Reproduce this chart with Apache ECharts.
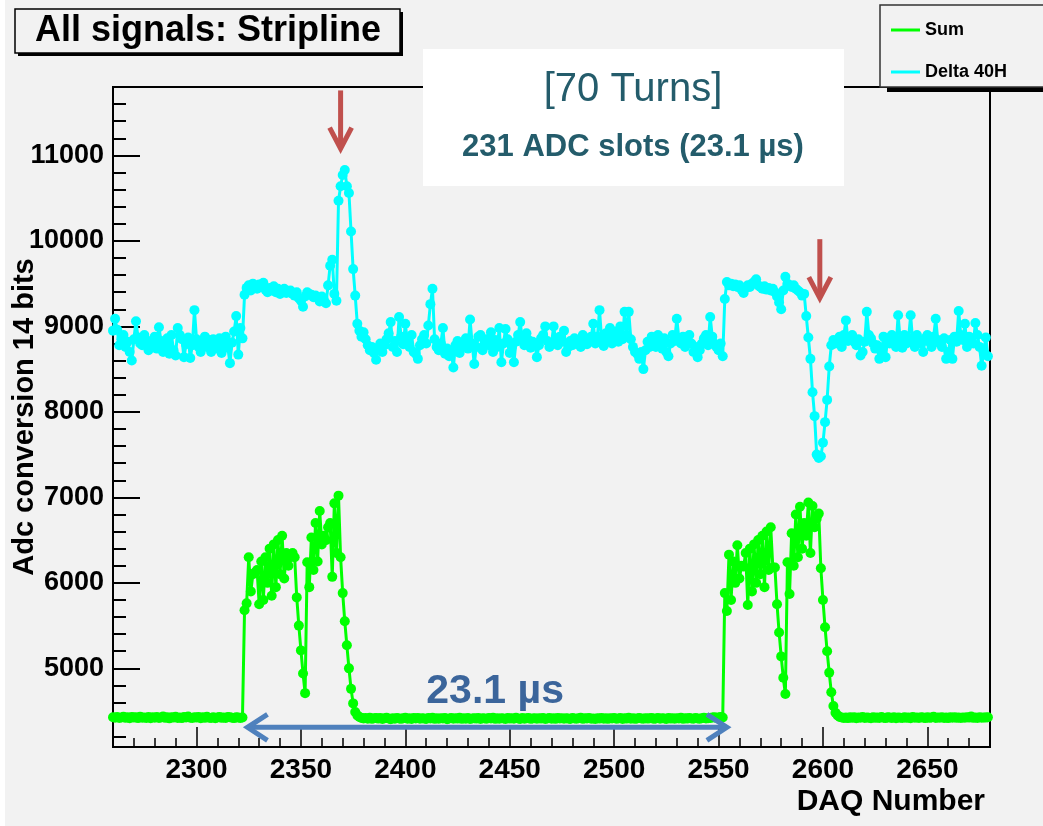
<!DOCTYPE html>
<html>
<head>
<meta charset="utf-8">
<script src="https://cdn.jsdelivr.net/npm/echarts@6/dist/echarts.min.js"></script>
<style>
  html, body { margin: 0; background: #f2f2f2; }
  #chart { width: 1043px; height: 826px; }
</style>
</head>
<body>
<div id="chart"></div>
<script>
// DAQ numbers 2260..2679, one sample per slot
const daqFirst = 2260;
const daqLast = 2679;

const xTicks = [2300, 2350, 2400, 2450, 2500, 2550, 2600, 2650];
const yTicks = [5000, 6000, 7000, 8000, 9000, 10000, 11000];

// Sum signal (green)
const sumBaseLeft = [
  4428,4422,4431,4419,4425,4433,4421,4427,4416,4430,
  4424,4429,4418,4435,4422,4426,4420,4432,4417,4428,
  4423,4431,4419,4426,4438,4421,4427,4415,4429,4424,
  4433,4420,4426,4418,4430,4425,4436,4422,4419,4428,
  4424,4431,4417,4427,4421,4434,4423,4420,4429,4416,
  4426,4432,4421,4425,4419,4430,4427,4422,4418,4428,
  4424,4420,4426
];
const sumPulse1 = [
  5680,5760,6300,5900,6100,6120,6150,5750,6250,5800,
  6300,6000,6400,5850,6450,5950,6500,6100,6550,6050,
  6350,6200,6300,6350,6300,5830,5500,5210,4940,4710,
  6240,5950,6530,6150,6700,6250,6840,6450,6550,6500,
  6650,6700,6070,6930,6350,7020,6300,5880,5550,5270,
  5000,4760,4590,4490,4450
];
const sumBaseMid = [
  4432,4420,4414,4418,4411,4423,4409,4416,4420,4412,
  4418,4408,4415,4421,4413,4406,4417,4410,4419,4414,
  4409,4416,4422,4411,4415,4407,4418,4413,4420,4410,
  4416,4412,4408,4419,4414,4421,4409,4415,4411,4417,
  4413,4420,4406,4414,4418,4410,4416,4412,4423,4409,
  4415,4411,4419,4407,4414,4417,4412,4420,4408,4416,
  4413,4410,4418,4414,4422,4409,4415,4411,4417,4413,
  4408,4419,4412,4416,4410,4421,4414,4407,4418,4411,
  4415,4420,4409,4413,4417,4410,4416,4412,4419,4408,
  4414,4418,4411,4415,4409,4420,4413,4416,4410,4417,
  4412,4408,4419,4414,4411,4416,4422,4409,4415,4413,
  4418,4410,4414,4407,4417,4412,4420,4411,4415,4409,
  4416,4413,4419,4410,4414,4418,4408,4415,4412,4421,
  4411,4416,4409,4414,4419,4413,4410,4417,4412,4415,
  4420,4409,4414,4418,4411,4416,4413,4408,4419,4412,
  4415,4410,4417,4414,4421,4409,4416,4412,4418,4413,
  4411,4419,4414,4410,4416,4422,4413,4417,4420,4424,
  4428,4421,4426,4430,4425
];
const sumPulse2 = [
  5880,5670,6330,5800,6250,6000,6440,6050,6200,6190,
  6350,5740,6400,5900,6450,6000,6500,6100,6550,5950,
  6600,6150,6650,6180,6180,5750,5420,5140,4890,4700,
  6240,5870,6580,6200,6800,6300,6890,6400,6700,6550,
  6940,6350,6900,6650,6750,6810,6170,5800,5480,5200,
  4950,4720,4560,4480,4450
];
const sumBaseRight = [
  4432,4426,4420,4424,4418,4427,4421,4429,4416,4425,
  4422,4430,4419,4426,4423,4417,4428,4421,4425,4419,
  4431,4422,4418,4427,4424,4420,4429,4416,4426,4423,
  4419,4428,4421,4425,4417,4430,4422,4426,4420,4427,
  4424,4418,4429,4421,4425,4433,4419,4426,4422,4428,
  4420,4424,4418,4427,4423,4429,4421,4425,4419,4426,
  4422,4428,4424,4437,4421,4425,4420,4427,4423,4426,
  4424,4428
];

// Delta 40H signal (cyan)
const deltaBaseLeft = [
  8950,9090,8960,8780,8850,8900,8760,8820,8700,8600,
  8850,9060,8870,8800,8780,8900,8840,8720,8760,8800,
  8880,8740,8990,8830,8700,8760,8860,8680,8900,8720,
  8660,8980,8900,8850,8640,8790,8870,8630,8780,9190,
  8850,8760,8700,8820,8880,8760,8840,8700,8850,8800,
  8740,8860,8690,8780,8880,8750,8570,8810,8940,9120,
  8670,8980,8860
];
const deltaPlateau1 = [
  9370,9450,9480,9420,9500,9470,9440,9490,9460,9510,
  9430,9400,9450,9420,9470,9400,9440,9380,9420,9440,
  9390,9410,9420,9380,9360,9400,9330,9300,9230,9350,
  9400,9380,9370,9340,9360,9330,9290,9350,9310,9270,
  9480,9710,9780,9380,9300
];
const deltaPeak = [10470,10640,10770,10830,10640,10560,10110,9670,9360,9030,8950,8880];
const deltaBaseMid = [
  8930,8850,8780,8720,8760,8690,8610,8740,8800,8700,
  8780,8850,8920,9050,8760,8830,8700,9110,8880,8790,
  9030,8820,8760,8900,8700,8680,8620,8780,8850,8900,
  8800,9010,9260,9440,8850,8760,8720,8800,8980,8680,
  8740,8650,8700,8520,8780,8830,8690,8760,8810,8860,
  8740,9080,8800,8560,8760,8880,8900,8720,8800,8850,
  8780,8930,8700,8840,8760,8980,8580,8800,8970,8850,
  8690,8760,8580,8820,8900,9050,8860,8780,8920,8840,
  8750,8820,8800,8640,8780,8860,8900,9000,8830,8760,
  8800,9000,8850,8780,8880,8820,8950,8700,8760,8830,
  8780,8860,8800,8840,8760,8900,8820,8790,8850,8880,
  9030,8800,8880,9190,8850,8770,8920,8860,8980,8800,
  8880,8940,8820,9000,8850,9170,8900,9170,8850,8760,
  8700,8680,8620,8700,8500,8720,8820,8760,8880,8800,
  8760,8900,8820,8740,8860,8700,8650,8800,8900,8830,
  9090,8860,8800,8880,8760,8840,8900,8800,8700,8760,
  8640,8720,8800,8860,8900,8780,9110,8880,8800,8760,
  8720,8800,8650
];
const deltaPlateau2 = [
  9320,9520,9480,9500,9470,9490,9460,9480,9430,9390,
  9450,9480,9460,9500,9520,9550,9480,9460,9440,9470,
  9430,9450,9420,9440,9400,9350,9280,9200,9420,9580,
  9500,9480,9460,9480,9440,9420,9400,9360,9380
];
const deltaDip = [9120,8870,8620,8230,7950,7500,7460,7480,7640,7880,8140,8530,8780,8840];
const deltaBaseRight = [
  8800,8840,8880,8760,8900,9070,8830,8860,8900,8820,
  8780,8850,8660,8700,8820,9170,8900,8860,8800,8740,
  8780,8620,8700,8880,8640,8860,8800,8900,8840,8760,
  9130,8840,8750,8900,8800,8860,9130,8820,8760,8900,
  8840,8800,8700,8860,8900,8820,8760,8880,9090,8840,
  8800,8760,8860,8620,8700,8840,8620,8880,8820,9180,
  8900,8840,9030,8760,8880,8820,8800,9040,8900,8760,
  8540,8700,8870,8650
];

const sumAdc = [].concat(sumBaseLeft, sumPulse1, sumBaseMid, sumPulse2, sumBaseRight);
const deltaAdc = [].concat(deltaBaseLeft, deltaPlateau1, deltaPeak, deltaBaseMid,
  deltaPlateau2, deltaDip, deltaBaseRight);

const daq = [];
for (let d = daqFirst; d <= daqLast; d++) daq.push(d);

const xMinor = [];
for (let v = 2260; v <= 2680; v += 10) if (v % 50) xMinor.push(v);
const yMinor = [];
for (let v = 4200; v <= 11800; v += 200) if (v % 1000) yMinor.push(v);

const FONT = '"Liberation Sans", Arial, sans-serif';
const RED = '#c0504d';
const BLUE = '#4f81bd';

const chart = echarts.init(document.getElementById('chart'));

const xRange = { min: 2260, max: 2680 };
const yRange = { min: 4080, max: 11800 };
const plain = v => String(v);

const option = {
  animation: false,
  backgroundColor: '#f2f2f2',
  grid: {
    left: 113, right: 53, top: 87, bottom: 79,
    outerBoundsMode: 'none', containLabel: false,
    show: true, borderColor: '#000', borderWidth: 2, backgroundColor: 'transparent'
  },
  legend: {
    orient: 'vertical', left: 886, top: 16, z: 10,
    itemWidth: 29, itemHeight: 3, itemGap: 24, icon: 'rect',
    textStyle: { fontFamily: FONT, fontWeight: 'bold', fontSize: 18, color: '#000' },
    data: ['Sum', 'Delta 40H']
  },
  xAxis: [
    {
      type: 'value', ...xRange,
      axisLine: { lineStyle: { color: '#000', width: 2 } },
      splitLine: { show: false },
      axisTick: { inside: true, length: 20, customValues: xTicks, lineStyle: { color: '#000', width: 1.5 } },
      axisLabel: {
        customValues: xTicks, formatter: plain, margin: 9, color: '#000',
        fontFamily: FONT, fontWeight: 'bold', fontSize: 28
      }
    },
    {
      type: 'value', ...xRange, position: 'bottom',
      axisLine: { show: false }, splitLine: { show: false }, axisLabel: { show: false },
      axisTick: { inside: true, length: 9, customValues: xMinor, lineStyle: { color: '#000', width: 1.5 } }
    }
  ],
  yAxis: [
    {
      type: 'value', ...yRange,
      name: 'Adc conversion 14 bits', nameLocation: 'middle', nameGap: 74, nameMoveOverlap: false,
      nameTextStyle: { fontFamily: FONT, fontWeight: 'bold', fontSize: 29, color: '#000' },
      axisLine: { lineStyle: { color: '#000', width: 2 } },
      splitLine: { show: false },
      axisTick: { inside: true, length: 27, customValues: yTicks, lineStyle: { color: '#000', width: 2 } },
      axisLabel: {
        customValues: yTicks, formatter: plain, margin: 9, color: '#000',
        fontFamily: FONT, fontWeight: 'bold', fontSize: 27
      }
    },
    {
      type: 'value', ...yRange, position: 'left',
      axisLine: { show: false }, splitLine: { show: false }, axisLabel: { show: false },
      axisTick: { inside: true, length: 13, customValues: yMinor, lineStyle: { color: '#000', width: 2 } }
    }
  ],
  series: [
    {
      name: 'Sum', type: 'line', xAxisIndex: 0, yAxisIndex: 0,
      data: daq.map((d, i) => [d, sumAdc[i]]),
      symbol: 'circle', symbolSize: 10, showAllSymbol: true,
      itemStyle: { color: '#00ff00' }, lineStyle: { color: '#00ff00', width: 3 }
    },
    {
      name: 'Delta 40H', type: 'line', xAxisIndex: 0, yAxisIndex: 0,
      data: daq.map((d, i) => [d, deltaAdc[i]]),
      symbol: 'circle', symbolSize: 10, showAllSymbol: true,
      itemStyle: { color: '#00ffff' }, lineStyle: { color: '#00ffff', width: 3 }
    }
  ]
};

chart.setOption(option);

// annotations anchored in data units
const peakArrows = [
  { daq: 2369, from: 11760, to: 11080 },
  { daq: 2598.5, from: 10020, to: 9330 }
];
const spanArrow = { from: 2324.4, to: 2554, adc: 4310 };
const spanLabel = { daq: 2443, adc: 4730, text: '23.1 µs' };

const px = (d, v) => chart.convertToPixel({ seriesIndex: 0 }, [d, v]);

const graphics = [
  // white strip at the left edge
  { type: 'rect', shape: { x: 0, y: 0, width: 5, height: 826 }, style: { fill: '#ffffff' }, z: 1 },
  // title box
  { type: 'rect', shape: { x: 18, y: 12, width: 385, height: 44 }, style: { fill: '#000' }, z: 1 },
  { type: 'rect', shape: { x: 15, y: 9, width: 385, height: 44 }, style: { fill: '#f2f2f2', stroke: '#000', lineWidth: 1.5 }, z: 2 },
  {
    type: 'text', x: 208, y: 31, z: 3,
    style: { text: 'All signals: Stripline', fill: '#000', font: 'bold 36px ' + FONT, textAlign: 'center', textVerticalAlign: 'middle' }
  },
  // legend box
  { type: 'rect', shape: { x: 887, y: 10, width: 160, height: 82 }, style: { fill: '#000' }, z: 1 },
  { type: 'rect', shape: { x: 880, y: 5, width: 170, height: 82 }, style: { fill: '#f2f2f2', stroke: '#333', lineWidth: 1.5 }, z: 2 },
  // note box
  { type: 'rect', shape: { x: 423, y: 49, width: 421, height: 137 }, style: { fill: '#ffffff' }, z: 5 },
  {
    type: 'text', x: 633, y: 90, z: 6,
    style: { text: '[70 Turns]', fill: '#245c6b', font: '40px ' + FONT, textAlign: 'center', textVerticalAlign: 'middle' }
  },
  {
    type: 'text', x: 633, y: 147, z: 6,
    style: { text: '231 ADC slots (23.1 µs)', fill: '#245c6b', font: 'bold 31px ' + FONT, textAlign: 'center', textVerticalAlign: 'middle' }
  },
  // x axis title
  {
    type: 'text', x: 985, y: 802, z: 6,
    style: { text: 'DAQ Number', fill: '#000', font: 'bold 30px ' + FONT, textAlign: 'right', textVerticalAlign: 'middle' }
  }
];

peakArrows.forEach(a => {
  const top = px(a.daq, a.from);
  const tip = px(a.daq, a.to);
  graphics.push({
    type: 'line', z: 7,
    shape: { x1: top[0], y1: top[1], x2: tip[0], y2: tip[1] - 3 },
    style: { stroke: RED, lineWidth: 5 }
  });
  graphics.push({
    type: 'polyline', z: 7,
    shape: { points: [[tip[0] - 11, tip[1] - 21], [tip[0], tip[1]], [tip[0] + 11, tip[1] - 21]] },
    style: { stroke: RED, lineWidth: 5, fill: null, lineJoin: 'miter' }
  });
});

const sa = px(spanArrow.from, spanArrow.adc);
const sb = px(spanArrow.to, spanArrow.adc);
graphics.push({
  type: 'line', z: 7,
  shape: { x1: sa[0] + 3, y1: sa[1], x2: sb[0] - 3, y2: sb[1] },
  style: { stroke: BLUE, lineWidth: 5 }
});
graphics.push({
  type: 'polyline', z: 7,
  shape: { points: [[sa[0] + 20, sa[1] - 13], [sa[0], sa[1]], [sa[0] + 20, sa[1] + 13]] },
  style: { stroke: BLUE, lineWidth: 5, fill: null, lineJoin: 'miter' }
});
graphics.push({
  type: 'polyline', z: 7,
  shape: { points: [[sb[0] - 20, sb[1] - 13], [sb[0], sb[1]], [sb[0] - 20, sb[1] + 13]] },
  style: { stroke: BLUE, lineWidth: 5, fill: null, lineJoin: 'miter' }
});
const lp = px(spanLabel.daq, spanLabel.adc);
graphics.push({
  type: 'text', x: lp[0], y: lp[1], z: 7,
  style: { text: spanLabel.text, fill: '#3b659b', font: 'bold 41px ' + FONT, textAlign: 'center', textVerticalAlign: 'middle' }
});

chart.setOption({ graphic: graphics });
</script>
</body>
</html>
